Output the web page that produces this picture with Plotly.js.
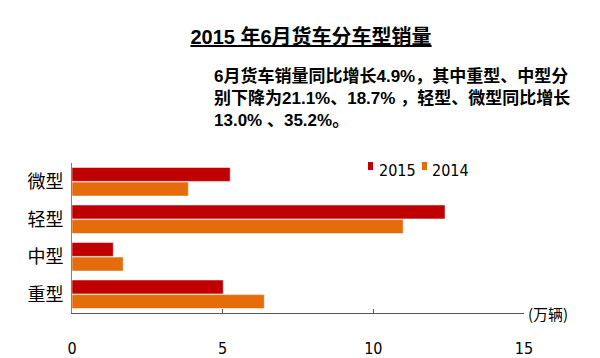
<!DOCTYPE html>
<html>
<head>
<meta charset="utf-8">
<script src="https://cdn.plot.ly/plotly-3.0.1.min.js"></script>
<style>html,body{margin:0;padding:0;background:#fff;}#chart{width:600px;height:358px;}</style>
</head>
<body>
<div id="chart"></div>
<script>
// Data
var categories = ["微型", "轻型", "中型", "重型"];
var seriesNames = ["2015", "2014"];
var values2015 = [5.25, 12.38, 1.37, 5.02];
var values2014 = [3.86, 10.99, 1.70, 6.38];
var xTickVals = [0, 5, 10, 15];
var xTickText = ["0", "5", "10", "15"];
var unitLabel = "(万辆)";
var titleText = "2015 年6月货车分车型销量";
var noteLines = ["6月货车销量同比增长4.9%，其中重型、中型分", "别下降为21.1%、18.7% ，轻型、微型同比增长", "13.0% 、35.2%。"];

var colors = ["#C00000", "#E46C0A"];
var narrow = "Liberation Sans Narrow, DejaVu Sans Condensed, Arial Narrow, sans-serif";
var cjk = "Noto Sans CJK SC, sans-serif";

var L = 72, R = 76, T = 163, B = 45, W = 600, H = 358;
var pw = W - L - R, ph = H - T - B;
function px2x(px) { return (px - L) / pw; }
function py2y(py) { return (H - B - py) / ph; }

var traces = [
  {type: "bar", orientation: "h", name: seriesNames[0], y: categories, x: values2015,
   marker: {color: colors[0], line: {color: "#ffffff", width: 0.5}}, hoverinfo: "x+y"},
  {type: "bar", orientation: "h", name: seriesNames[1], y: categories, x: values2014,
   marker: {color: colors[1], line: {color: "#ffffff", width: 0.5}}, hoverinfo: "x+y"}
];

var annotations = [
  {xref: "paper", yref: "paper", x: px2x(212), y: py2y(98), xanchor: "left", yanchor: "middle",
   align: "left", showarrow: false,
   text: "<b>" + noteLines.join("<br>") + "</b>",
   font: {family: "Liberation Sans, Arial, " + cjk, size: 17, color: "#000"}},
  {xref: "paper", yref: "paper", x: px2x(526), y: 0, xanchor: "left", yanchor: "middle",
   showarrow: false, text: unitLabel, font: {family: cjk, size: 15, color: "#000"}}
];

// custom legend
var legendItems = [{sw: 368, tx: 377}, {sw: 422, tx: 430}];
var shapes = [];
legendItems.forEach(function (it, i) {
  shapes.push({type: "rect", xref: "paper", yref: "paper",
    x0: px2x(it.sw), x1: px2x(it.sw + 5), y0: py2y(170), y1: py2y(162),
    fillcolor: colors[i], line: {width: 0}});
  annotations.push({xref: "paper", yref: "paper", x: px2x(it.tx), y: py2y(170), xanchor: "left", yanchor: "middle",
    showarrow: false, text: seriesNames[i], font: {family: narrow, size: 16, color: "#000"}});
});

var layout = {
  width: W, height: H,
  margin: {l: L, r: R, t: T, b: B, pad: 0},
  paper_bgcolor: "#fff", plot_bgcolor: "#fff",
  barmode: "group", bargap: 0.22, bargroupgap: 0.05,
  showlegend: false,
  title: {text: "<b><u>" + titleText + "</u></b>", xref: "container", yref: "container",
    x: 311 / W, xanchor: "center", y: 1 - 37 / H, yanchor: "middle",
    font: {family: "Liberation Sans, Arial, " + cjk, size: 20, color: "#000"}},
  xaxis: {range: [0, 15], tickvals: xTickVals, ticktext: xTickText,
    showline: true, linecolor: "#595959", linewidth: 1,
    ticks: "inside", ticklen: 4, tickcolor: "#595959", tickwidth: 1,
    showgrid: false, zeroline: false, ticklabelstandoff: 21,
    tickfont: {family: narrow, size: 16, color: "#000"}, fixedrange: true},
  yaxis: {type: "category", categoryorder: "array", categoryarray: categories, autorange: "reversed",
    showline: true, linecolor: "#808080", linewidth: 1, ticks: "", showgrid: false, zeroline: false,
    ticklabelstandoff: 4, tickfont: {family: cjk, size: 18, color: "#000"}, fixedrange: true},
  annotations: annotations,
  shapes: shapes
};

Plotly.newPlot("chart", traces, layout, {displayModeBar: false, staticPlot: true});
</script>
</body>
</html>
